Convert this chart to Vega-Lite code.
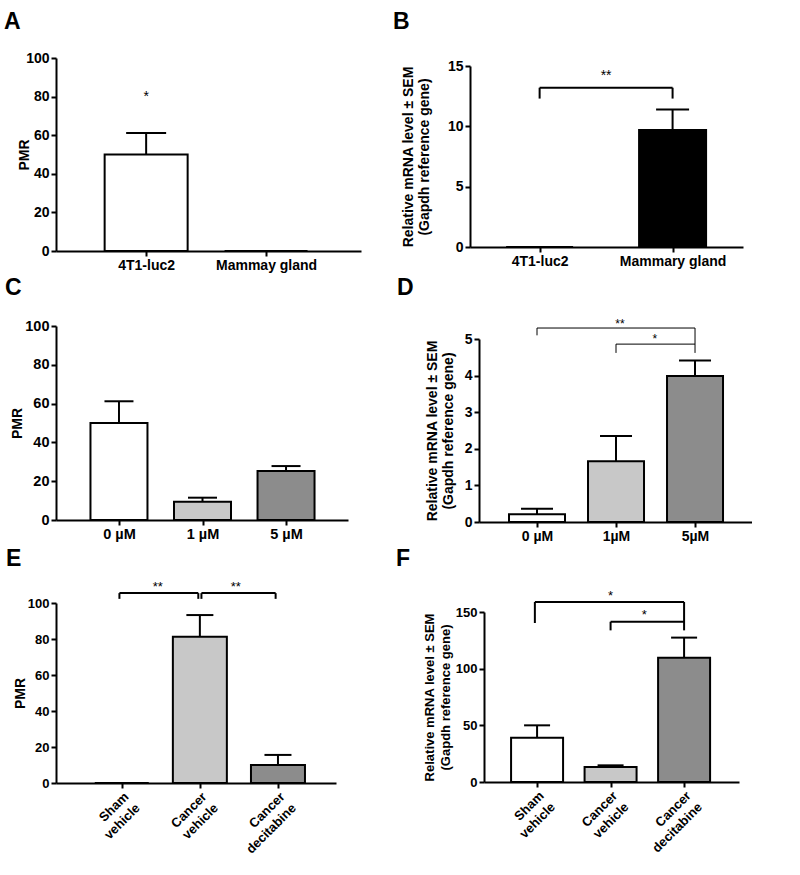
{
"$schema": "https://vega.github.io/schema/vega-lite/v6.json",
"padding": {"left": 4, "top": 11, "right": 0, "bottom": 0},
"background": "white",
"spacing": 5,
"resolve": {"scale": {"fill": "independent"}},
"vconcat": [
{"spacing": 32, "resolve": {"scale": {"fill": "independent"}}, "hconcat": [
 {"spacing": 0, "resolve": {"scale": {"fill": "independent"}}, "vconcat": [
  {"title": {"text": "A", "offset": 16, "dx": -52, "frame": "group"}, "width": 305, "height": 1, "data": {"values": [{}]}, "mark": {"type": "text", "text": "", "fontSize": 0}, "encoding": {}},
  {"width": 305, "height": 193,
   "data": {"values": [{"group": "4T1-luc2", "pos": 1, "mean": 50, "upper": 61.2}, {"group": "Mammay gland", "pos": 2, "mean": 0, "upper": 0}]},
   "encoding": {
    "x": {"field": "pos", "type": "quantitative", "scale": {"domain": [0.29, 2.75], "nice": false, "zero": false}, "axis": {"values": [1, 2], "labelExpr": "datum.value == 1 ? '4T1-luc2' : 'Mammay gland'", "title": null}},
    "y": {"field": "mean", "type": "quantitative", "scale": {"domain": [0, 100], "nice": false}, "axis": {"values": [0, 20, 40, 60, 80, 100], "title": "PMR", "titlePadding": -6}}
   },
   "layer": [
    {"mark": {"type": "bar", "width": 83, "stroke": "black", "strokeWidth": 2},
     "encoding": {"fill": {"field": "group", "type": "nominal", "scale": {"domain": ["4T1-luc2", "Mammay gland"], "range": ["white", "white"]}, "legend": null}}},
    {"transform": [{"filter": "datum.upper > datum.mean"}], "mark": {"type": "rule", "strokeWidth": 2, "color": "black"}, "encoding": {"y2": {"field": "upper"}}},
    {"transform": [{"filter": "datum.upper > datum.mean"}], "mark": {"type": "tick", "orient": "horizontal", "size": 40, "thickness": 2, "color": "black", "opacity": 1}, "encoding": {"y": {"field": "upper", "type": "quantitative"}}},
    {"data": {"values": [{"pos": 1, "level": 80, "label": "*"}]}, "mark": {"type": "text", "fontSize": 14, "baseline": "middle"}, "encoding": {"x": {"field": "pos", "type": "quantitative"}, "y": {"field": "level", "type": "quantitative"}, "text": {"field": "label"}}}
   ]}
 ]},
 {"spacing": 0, "resolve": {"scale": {"fill": "independent"}}, "vconcat": [
  {"title": {"text": "B", "offset": 16, "dx": -77, "frame": "group"}, "width": 273, "height": 9, "data": {"values": [{}]}, "mark": {"type": "text", "text": "", "fontSize": 0}, "encoding": {}},
  {"width": 273, "height": 181,
   "data": {"values": [{"group": "4T1-luc2", "pos": 1, "mean": 0, "upper": 0}, {"group": "Mammary gland", "pos": 2, "mean": 9.7, "upper": 11.4}]},
   "encoding": {
    "x": {"field": "pos", "type": "quantitative", "scale": {"domain": [0.514, 2.492], "nice": false, "zero": false}, "axis": {"values": [1, 2], "labelExpr": "datum.value == 1 ? '4T1-luc2' : 'Mammary gland'", "title": null}},
    "y": {"field": "mean", "type": "quantitative", "scale": {"domain": [0, 15], "nice": false}, "axis": {"values": [0, 5, 10, 15], "title": ["Relative mRNA level ± SEM", "(Gapdh reference gene)"], "titlePadding": 16}}
   },
   "layer": [
    {"mark": {"type": "bar", "width": 67, "stroke": "black", "strokeWidth": 2},
     "encoding": {"fill": {"field": "group", "type": "nominal", "scale": {"domain": ["4T1-luc2", "Mammary gland"], "range": ["white", "black"]}, "legend": null}}},
    {"transform": [{"filter": "datum.upper > datum.mean"}], "mark": {"type": "rule", "strokeWidth": 2, "color": "black"}, "encoding": {"y2": {"field": "upper"}}},
    {"transform": [{"filter": "datum.upper > datum.mean"}], "mark": {"type": "tick", "orient": "horizontal", "size": 33, "thickness": 2, "color": "black", "opacity": 1}, "encoding": {"y": {"field": "upper", "type": "quantitative"}}},
    {"data": {"values": [{"xa": 1, "xb": 2, "ya": 13.2, "yb": 13.2}, {"xa": 1, "xb": 1, "ya": 13.2, "yb": 12.3}, {"xa": 2, "xb": 2, "ya": 13.2, "yb": 12.3}]},
     "mark": {"type": "rule", "strokeWidth": 2, "color": "black"},
     "encoding": {"x": {"field": "xa", "type": "quantitative"}, "x2": {"field": "xb"}, "y": {"field": "ya", "type": "quantitative"}, "y2": {"field": "yb"}}},
    {"data": {"values": [{"pos": 1.5, "level": 14.15, "label": "**"}]}, "mark": {"type": "text", "fontSize": 14, "baseline": "middle"}, "encoding": {"x": {"field": "pos", "type": "quantitative"}, "y": {"field": "level", "type": "quantitative"}, "text": {"field": "label"}}}
   ]}
 ]}
]},
{"spacing": 49, "resolve": {"scale": {"fill": "independent"}}, "hconcat": [
 {"spacing": 0, "resolve": {"scale": {"fill": "independent"}}, "vconcat": [
  {"title": {"text": "C", "offset": 16, "dx": -51, "frame": "group"}, "width": 292, "height": 2, "data": {"values": [{}]}, "mark": {"type": "text", "text": "", "fontSize": 0}, "encoding": {}},
  {"width": 292, "height": 194,
   "data": {"values": [{"group": "0 µM", "pos": 1, "mean": 50, "upper": 61.2}, {"group": "1 µM", "pos": 2, "mean": 9.4, "upper": 11.5}, {"group": "5 µM", "pos": 3, "mean": 25.3, "upper": 27.8}]},
   "encoding": {
    "x": {"field": "pos", "type": "quantitative", "scale": {"domain": [0.306, 3.682], "nice": false, "zero": false}, "axis": {"values": [1, 2, 3], "labelExpr": "datum.value == 1 ? '0 µM' : datum.value == 2 ? '1 µM' : '5 µM'", "title": null, "labelFontSize": 14.5}},
    "y": {"field": "mean", "type": "quantitative", "scale": {"domain": [0, 100], "nice": false}, "axis": {"values": [0, 20, 40, 60, 80, 100], "title": "PMR", "titlePadding": 0, "labelFontSize": 14.5}}
   },
   "layer": [
    {"mark": {"type": "bar", "width": 57, "stroke": "black", "strokeWidth": 2},
     "encoding": {"fill": {"field": "group", "type": "nominal", "scale": {"domain": ["0 µM", "1 µM", "5 µM"], "range": ["white", "#c8c8c8", "#8c8c8c"]}, "legend": null}}},
    {"transform": [{"filter": "datum.upper > datum.mean"}], "mark": {"type": "rule", "strokeWidth": 2, "color": "black"}, "encoding": {"y2": {"field": "upper"}}},
    {"transform": [{"filter": "datum.upper > datum.mean"}], "mark": {"type": "tick", "orient": "horizontal", "size": 29, "thickness": 2, "color": "black", "opacity": 1}, "encoding": {"y": {"field": "upper", "type": "quantitative"}}}
   ]}
 ]},
 {"spacing": 0, "resolve": {"scale": {"fill": "independent"}}, "vconcat": [
  {"title": {"text": "D", "offset": 16, "dx": -82, "frame": "group"}, "width": 273, "height": 1, "data": {"values": [{}]}, "mark": {"type": "text", "text": "", "fontSize": 0}, "encoding": {}},
  {"width": 273, "height": 183,
   "data": {"values": [{"group": "0 µM", "pos": 1, "mean": 0.21, "upper": 0.36}, {"group": "1µM", "pos": 2, "mean": 1.66, "upper": 2.35}, {"group": "5µM", "pos": 3, "mean": 3.99, "upper": 4.41}]},
   "encoding": {
    "x": {"field": "pos", "type": "quantitative", "scale": {"domain": [0.329, 3.658], "nice": false, "zero": false}, "axis": {"values": [1, 2, 3], "labelExpr": "datum.value == 1 ? '0 µM' : datum.value == 2 ? '1µM' : '5µM'", "title": null}},
    "y": {"field": "mean", "type": "quantitative", "scale": {"domain": [0, 5], "nice": false}, "axis": {"values": [0, 1, 2, 3, 4, 5], "title": ["Relative mRNA level ± SEM", "(Gapdh reference gene)"], "titlePadding": 9}}
   },
   "layer": [
    {"mark": {"type": "bar", "width": 56, "stroke": "black", "strokeWidth": 2},
     "encoding": {"fill": {"field": "group", "type": "nominal", "scale": {"domain": ["0 µM", "1µM", "5µM"], "range": ["white", "#c8c8c8", "#8c8c8c"]}, "legend": null}}},
    {"transform": [{"filter": "datum.upper > datum.mean"}], "mark": {"type": "rule", "strokeWidth": 2, "color": "black"}, "encoding": {"y2": {"field": "upper"}}},
    {"transform": [{"filter": "datum.upper > datum.mean"}], "mark": {"type": "tick", "orient": "horizontal", "size": 32, "thickness": 2, "color": "black", "opacity": 1}, "encoding": {"y": {"field": "upper", "type": "quantitative"}}},
    {"data": {"values": [{"xa": 1, "xb": 3, "ya": 5.3, "yb": 5.3}, {"xa": 1, "xb": 1, "ya": 5.3, "yb": 5.1}, {"xa": 3, "xb": 3, "ya": 5.3, "yb": 4.62}, {"xa": 2, "xb": 3, "ya": 4.86, "yb": 4.86}, {"xa": 2, "xb": 2, "ya": 4.86, "yb": 4.62}]},
     "mark": {"type": "rule", "strokeWidth": 1, "color": "black"},
     "encoding": {"x": {"field": "xa", "type": "quantitative"}, "x2": {"field": "xb"}, "y": {"field": "ya", "type": "quantitative"}, "y2": {"field": "yb"}}},
    {"data": {"values": [{"pos": 2.05, "level": 5.41, "label": "**"}, {"pos": 2.49, "level": 5.0, "label": "*"}]}, "mark": {"type": "text", "fontSize": 12, "baseline": "middle"}, "encoding": {"x": {"field": "pos", "type": "quantitative"}, "y": {"field": "level", "type": "quantitative"}, "text": {"field": "label"}}}
   ]}
 ]}
]},
{"spacing": 60, "resolve": {"scale": {"fill": "independent"}}, "hconcat": [
 {"spacing": 0, "resolve": {"scale": {"fill": "independent"}}, "vconcat": [
  {"title": {"text": "E", "offset": 8, "dx": -50, "frame": "group"}, "width": 280, "height": 1, "data": {"values": [{}]}, "mark": {"type": "text", "text": "", "fontSize": 0}, "encoding": {}},
  {"width": 280, "height": 180,
   "data": {"values": [{"group": "Sham vehicle", "pos": 1, "mean": 0, "upper": 0}, {"group": "Cancer vehicle", "pos": 2, "mean": 81.3, "upper": 93.3}, {"group": "Cancer decitabine", "pos": 3, "mean": 10, "upper": 15.6}]},
   "encoding": {
    "x": {"field": "pos", "type": "quantitative", "scale": {"domain": [0.222, 3.679], "nice": false, "zero": false}, "axis": {"values": [1, 2, 3], "labelExpr": "datum.value == 1 ? ['Sham', 'vehicle'] : datum.value == 2 ? ['Cancer', 'vehicle'] : ['Cancer', 'decitabine']", "title": null, "labelAngle": -45, "labelAlign": "right", "labelBaseline": "top", "labelLineHeight": 16, "labelFontSize": 13}},
    "y": {"field": "mean", "type": "quantitative", "scale": {"domain": [0, 100], "nice": false}, "axis": {"values": [0, 20, 40, 60, 80, 100], "title": "PMR", "titlePadding": 0, "labelFontSize": 13}}
   },
   "layer": [
    {"mark": {"type": "bar", "width": 54, "stroke": "black", "strokeWidth": 2},
     "encoding": {"fill": {"field": "group", "type": "nominal", "scale": {"domain": ["Sham vehicle", "Cancer vehicle", "Cancer decitabine"], "range": ["white", "#c8c8c8", "#8c8c8c"]}, "legend": null}}},
    {"transform": [{"filter": "datum.upper > datum.mean"}], "mark": {"type": "rule", "strokeWidth": 2, "color": "black"}, "encoding": {"y2": {"field": "upper"}}},
    {"transform": [{"filter": "datum.upper > datum.mean"}], "mark": {"type": "tick", "orient": "horizontal", "size": 27, "thickness": 2, "color": "black", "opacity": 1}, "encoding": {"y": {"field": "upper", "type": "quantitative"}}},
    {"data": {"values": [{"xa": 0.97, "xb": 1.98, "ya": 105.5, "yb": 105.5}, {"xa": 0.97, "xb": 0.97, "ya": 105.5, "yb": 102.3}, {"xa": 1.98, "xb": 1.98, "ya": 105.5, "yb": 102.3}, {"xa": 2.02, "xb": 2.97, "ya": 105.5, "yb": 105.5}, {"xa": 2.02, "xb": 2.02, "ya": 105.5, "yb": 102.3}, {"xa": 2.97, "xb": 2.97, "ya": 105.5, "yb": 102.3}]},
     "mark": {"type": "rule", "strokeWidth": 2, "color": "black"},
     "encoding": {"x": {"field": "xa", "type": "quantitative"}, "x2": {"field": "xb"}, "y": {"field": "ya", "type": "quantitative"}, "y2": {"field": "yb"}}},
    {"data": {"values": [{"pos": 1.46, "level": 109, "label": "**"}, {"pos": 2.46, "level": 109, "label": "**"}]}, "mark": {"type": "text", "fontSize": 13, "baseline": "middle"}, "encoding": {"x": {"field": "pos", "type": "quantitative"}, "y": {"field": "level", "type": "quantitative"}, "text": {"field": "label"}}}
   ]}
 ]},
 {"spacing": 0, "resolve": {"scale": {"fill": "independent"}}, "vconcat": [
  {"title": {"text": "F", "offset": 8, "dx": -88, "frame": "group"}, "width": 255, "height": 11, "data": {"values": [{}]}, "mark": {"type": "text", "text": "", "fontSize": 0}, "encoding": {}},
  {"width": 255, "height": 170,
   "data": {"values": [{"group": "Sham vehicle", "pos": 1, "mean": 39.1, "upper": 50}, {"group": "Cancer vehicle", "pos": 2, "mean": 13.2, "upper": 14.7}, {"group": "Cancer decitabine", "pos": 3, "mean": 109.7, "upper": 127.4}]},
   "encoding": {
    "x": {"field": "pos", "type": "quantitative", "scale": {"domain": [0.346, 3.679], "nice": false, "zero": false}, "axis": {"values": [1, 2, 3], "labelExpr": "datum.value == 1 ? ['Sham', 'vehicle'] : datum.value == 2 ? ['Cancer', 'vehicle'] : ['Cancer', 'decitabine']", "title": null, "labelAngle": -45, "labelAlign": "right", "labelBaseline": "top", "labelLineHeight": 16, "labelFontSize": 13}},
    "y": {"field": "mean", "type": "quantitative", "scale": {"domain": [0, 150], "nice": false}, "axis": {"values": [0, 50, 100, 150], "title": ["Relative mRNA level ± SEM", "(Gapdh reference gene)"], "titlePadding": 3, "labelFontSize": 13, "titleFontSize": 13}}
   },
   "layer": [
    {"mark": {"type": "bar", "width": 52, "stroke": "black", "strokeWidth": 2},
     "encoding": {"fill": {"field": "group", "type": "nominal", "scale": {"domain": ["Sham vehicle", "Cancer vehicle", "Cancer decitabine"], "range": ["white", "#c8c8c8", "#8c8c8c"]}, "legend": null}}},
    {"transform": [{"filter": "datum.upper > datum.mean"}], "mark": {"type": "rule", "strokeWidth": 2, "color": "black"}, "encoding": {"y2": {"field": "upper"}}},
    {"transform": [{"filter": "datum.upper > datum.mean"}], "mark": {"type": "tick", "orient": "horizontal", "size": 26, "thickness": 2, "color": "black", "opacity": 1}, "encoding": {"y": {"field": "upper", "type": "quantitative"}}},
    {"data": {"values": [{"xa": 0.97, "xb": 3, "ya": 158.8, "yb": 158.8}, {"xa": 0.97, "xb": 0.97, "ya": 158.8, "yb": 140.3}, {"xa": 3, "xb": 3, "ya": 158.8, "yb": 133.8}, {"xa": 2, "xb": 3, "ya": 141.4, "yb": 141.4}, {"xa": 2, "xb": 2, "ya": 141.4, "yb": 133.8}]},
     "mark": {"type": "rule", "strokeWidth": 2, "color": "black"},
     "encoding": {"x": {"field": "xa", "type": "quantitative"}, "x2": {"field": "xb"}, "y": {"field": "ya", "type": "quantitative"}, "y2": {"field": "yb"}}},
    {"data": {"values": [{"pos": 2.0, "level": 164, "label": "*"}, {"pos": 2.46, "level": 147.7, "label": "*"}]}, "mark": {"type": "text", "fontSize": 13, "baseline": "middle"}, "encoding": {"x": {"field": "pos", "type": "quantitative"}, "y": {"field": "level", "type": "quantitative"}, "text": {"field": "label"}}}
   ]}
 ]}
]}
],
"config": {
 "font": "Liberation Sans",
 "view": {"stroke": null},
 "title": {"font": "Liberation Sans", "fontSize": 23, "fontWeight": "bold", "anchor": "start", "color": "black"},
 "text": {"font": "Liberation Sans", "color": "black"},
 "axis": {"grid": false, "domainColor": "black", "domainWidth": 2, "tickColor": "black", "tickWidth": 2, "tickSize": 5, "labelFont": "Liberation Sans", "labelFontSize": 14, "labelFontWeight": "bold", "labelColor": "black", "labelPadding": 2, "titleFont": "Liberation Sans", "titleFontSize": 14, "titleFontWeight": "bold", "titleColor": "black", "titleLineHeight": 16, "labelAngle": 0}
}
}
